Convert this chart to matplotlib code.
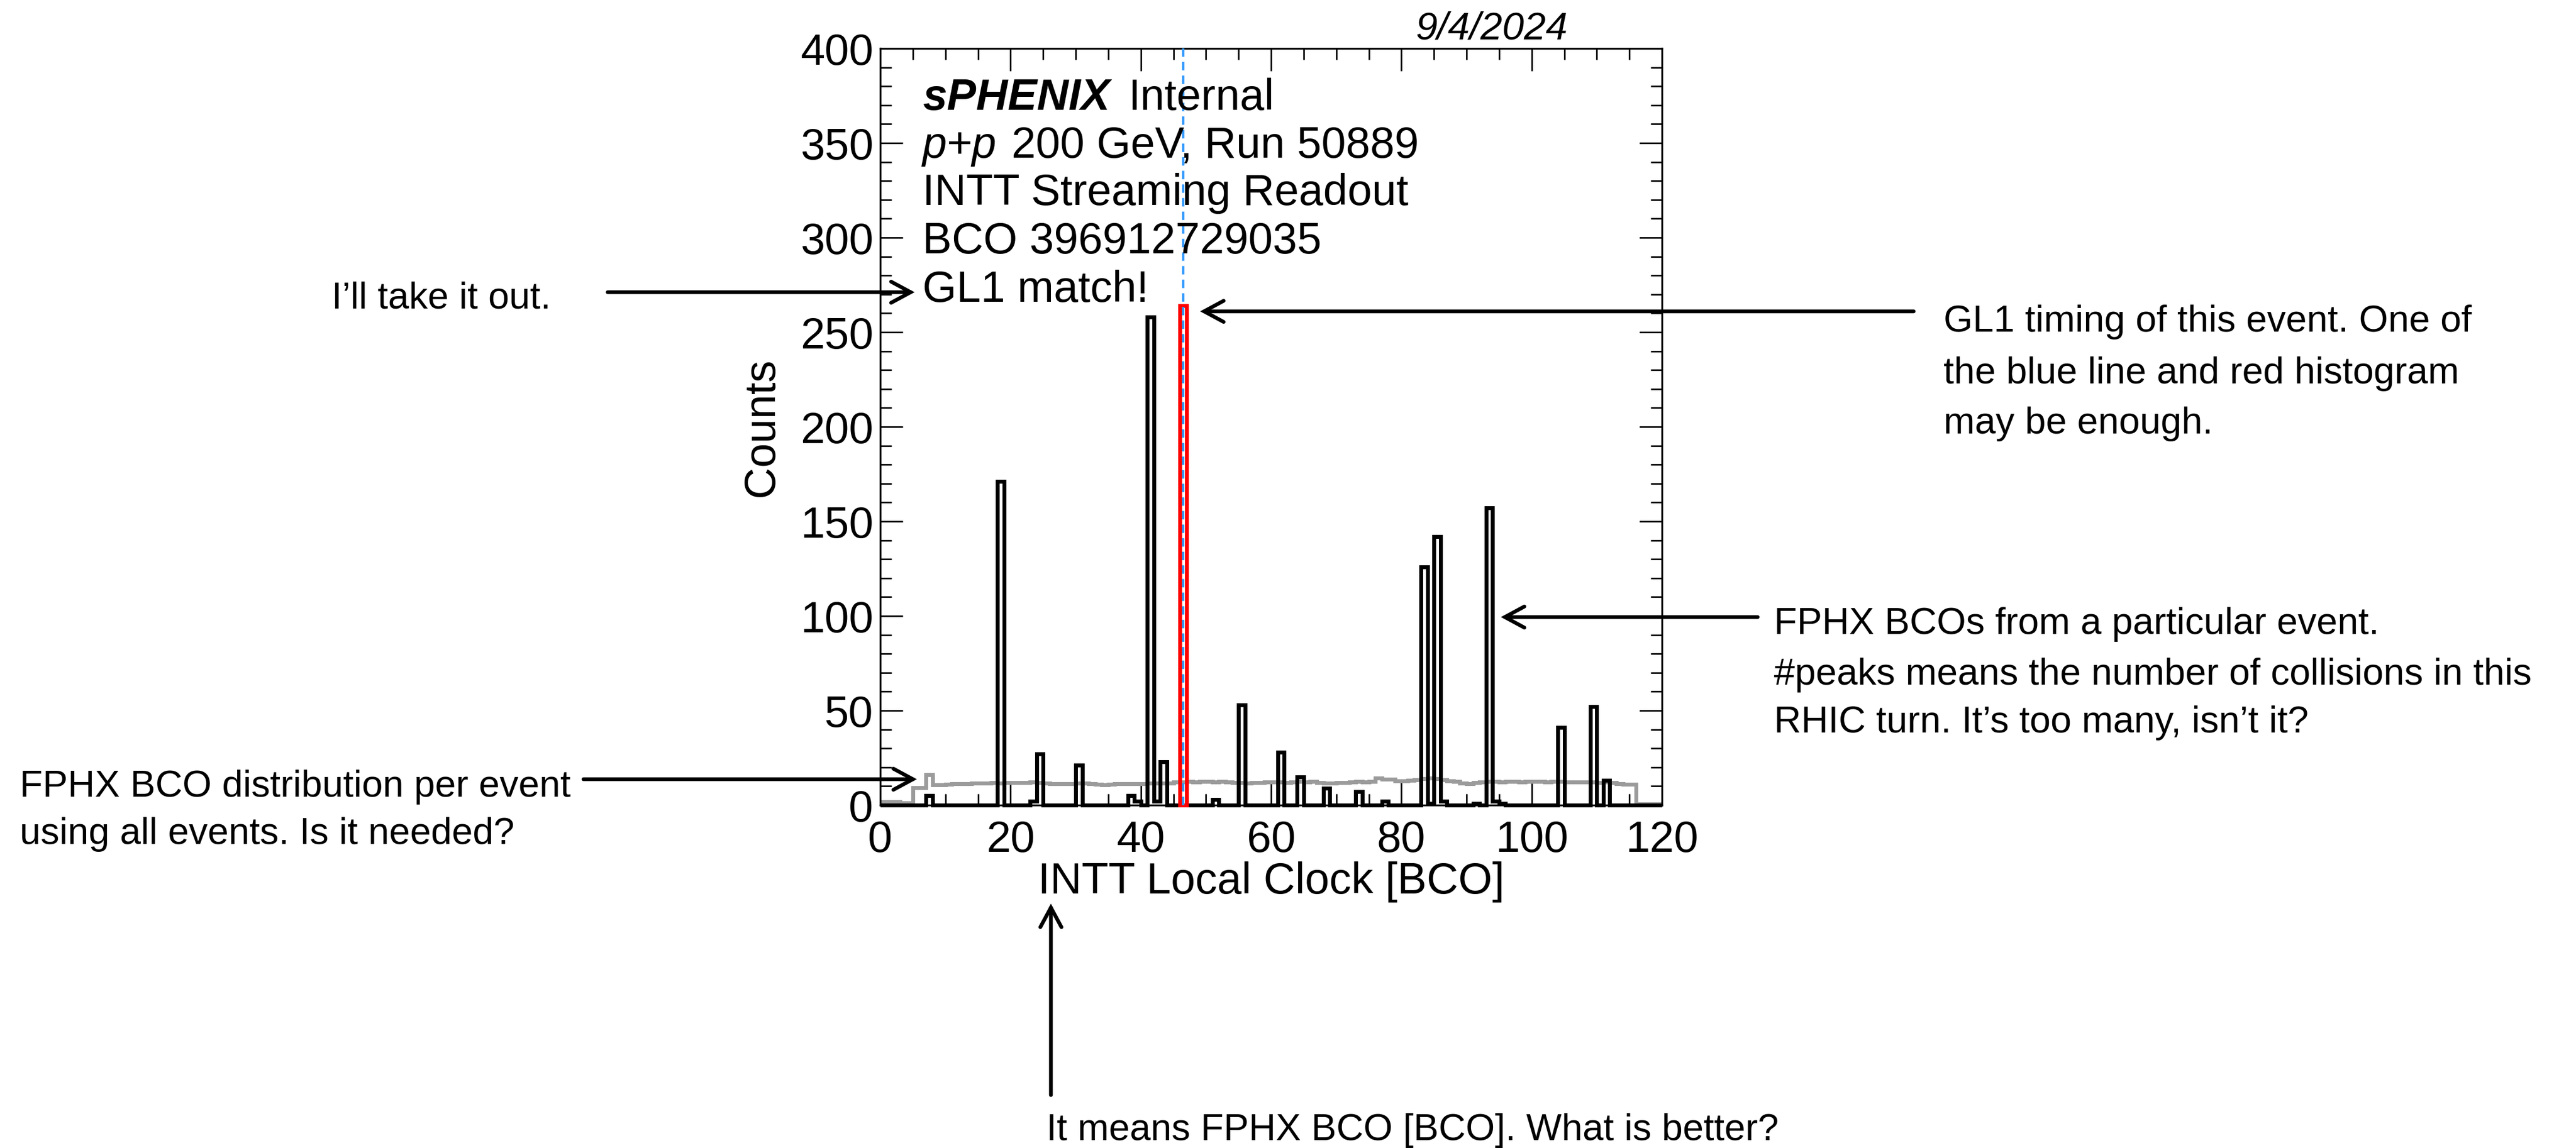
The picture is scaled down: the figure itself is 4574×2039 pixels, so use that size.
import numpy as np
import matplotlib
matplotlib.use('Agg')
import matplotlib.pyplot as plt
from matplotlib.patches import FancyArrowPatch
from matplotlib.ticker import MultipleLocator

plt.rcParams['font.family'] = ['Liberation Sans', 'DejaVu Sans']

# ---- data ----
bco_edges = np.arange(0, 121)

# FPHX BCO of this event (black histogram), non-empty bins only
peak_bins = [7, 18, 23, 24, 30, 38, 39, 41, 42, 43, 51, 55, 61, 64, 68, 73, 77,
             83, 84, 85, 86, 91, 93, 94, 95, 104, 109, 111]
peak_counts = [5, 171, 2, 27, 21, 5, 2, 258, 2, 23, 3, 53, 28, 15, 9, 7, 2,
               126, 1, 142, 2, 1, 157, 2, 1, 41, 52, 13]

# GL1-matched bin (red) and GL1 timing (blue dashed line)
gl1_bin = [46]
gl1_count = [264]
gl1_timing = 46.5

# FPHX BCO distribution per event using all events (grey)
allevt_counts = [
    1.8, 1.8, 1.8, 1.1, 1.1, 9.2, 9.2, 16.2, 10.7, 10.8,
    10.9, 11.2, 11.2, 11.4, 11.6, 11.7, 11.6, 11.8, 11.7, 11.8,
    12.0, 11.9, 12.0, 12.1, 11.9, 11.6, 11.3, 11.4, 11.2, 11.3,
    11.5, 11.6, 11.4, 10.9, 10.8, 11.0, 11.2, 11.3, 11.4, 11.3,
    11.2, 11.5, 11.6, 11.5, 11.7, 12.1, 12.2, 12.4, 12.3, 12.5,
    12.4, 12.3, 12.5, 12.2, 12.0, 11.9, 11.7, 11.8, 12.0, 12.2,
    12.3, 12.1, 12.0, 12.2, 12.5, 12.3, 12.4, 11.8, 11.7, 11.6,
    11.8, 12.0, 12.1, 12.4, 12.3, 12.5, 14.2, 13.8, 13.6, 12.8,
    12.9, 13.2, 13.4, 14.0, 14.2, 14.0, 13.3, 12.7, 12.5, 11.5,
    11.4, 12.0, 12.3, 12.6, 12.4, 12.2, 12.4, 12.5, 12.3, 12.4,
    12.6, 12.4, 12.3, 12.5, 12.4, 12.2, 12.1, 12.3, 12.2, 12.1,
    12.0, 12.1, 11.9, 11.3, 11.1, 10.9, 0.6, 0.6, 0.6, 0.6,
]

event_counts = np.zeros(len(bco_edges) - 1)
event_counts[peak_bins] = peak_counts

W, H = 4574, 2040


def fx(x):
    return x / W


def fy(y):
    return 1 - y / H


fig = plt.figure(figsize=(W / 100, H / 100), dpi=100)
ax = fig.add_axes([fx(1563), fy(1431), (2951 - 1563) / W, (1431 - 87) / H])

ax.stairs(allevt_counts, bco_edges, baseline=None, color='#9b9b9b', lw=5.0, zorder=2)
ax.stairs(event_counts, bco_edges, baseline=0, color='black', lw=5.0,
          joinstyle='miter', zorder=3, clip_on=False)
ax.bar(gl1_bin, gl1_count, width=1, align='edge', fill=False, edgecolor='#ff0000',
       lw=5.0, joinstyle='miter', zorder=4, clip_on=False)
ax.axvline(gl1_timing, color='#3399ff', lw=3.0, dashes=(3.6, 2.2), zorder=5)

ax.set_xlim(0, 120)
ax.set_ylim(0, 400)
ax.xaxis.set_major_locator(MultipleLocator(20))
ax.xaxis.set_minor_locator(MultipleLocator(5))
ax.yaxis.set_major_locator(MultipleLocator(50))
ax.yaxis.set_minor_locator(MultipleLocator(10))
ax.tick_params(which='both', direction='in', top=True, right=True, width=2.0,
               labelsize=56)
ax.tick_params(which='major', length=28.8)
ax.tick_params(which='minor', length=14.4)
ax.tick_params(axis='x', pad=18)
ax.tick_params(axis='y', pad=9)
for sp in ax.spines.values():
    sp.set_linewidth(2.4)

ax.set_xlabel('INTT Local Clock [BCO]', fontsize=56)
ax.xaxis.set_label_coords(0.5, -0.074)
ax.set_ylabel('Counts', fontsize=56)
ax.yaxis.set_label_coords(-0.1256, 0.5)

# ---- sPHENIX labels ----
fs = 56
fig.text(fx(1638), fy(195), 'sPHENIX', fontsize=fs, fontweight='bold',
         fontstyle='italic', va='baseline')
fig.text(fx(2004), fy(195), 'Internal', fontsize=fs, va='baseline')
fig.text(fx(1638), fy(280), 'p+p', fontsize=fs, fontstyle='italic', va='baseline')
fig.text(fx(1796), fy(280), '200 GeV, Run 50889', fontsize=fs, va='baseline')
fig.text(fx(1638), fy(364), 'INTT Streaming Readout', fontsize=fs, va='baseline')
fig.text(fx(1638), fy(450), 'BCO 396912729035', fontsize=fs, va='baseline')
fig.text(fx(1638), fy(536), 'GL1 match!', fontsize=fs, va='baseline')
fig.text(fx(2514), fy(70), '9/4/2024', fontsize=50, fontstyle='italic', va='baseline')

# ---- comments around the plot ----
cs = 48
notes = [
    (589, 548, "I\u2019ll take it out."),
    (3451, 589, 'GL1 timing of this event. One of'),
    (3451, 681, 'the blue line and red histogram'),
    (3451, 770, 'may be enough.'),
    (3150, 1126, 'FPHX BCOs from a particular event.'),
    (3150, 1216, '#peaks means the number of collisions in this'),
    (3150, 1301, 'RHIC turn. It\u2019s too many, isn\u2019t it?'),
    (35, 1415, 'FPHX BCO distribution per event'),
    (35, 1499, 'using all events. Is it needed?'),
    (1858, 2025, 'It means FPHX BCO [BCO]. What is better?'),
]
for x, y, s in notes:
    fig.text(fx(x), fy(y), s, fontsize=cs, va='baseline')

arrows = [
    ((1079, 520), (1624, 520)),
    ((3398, 554), (2131, 554)),
    ((3121, 1097), (2665, 1097)),
    ((1036, 1385), (1628, 1385)),
    ((1866, 1946), (1866, 1606)),
]
for (x0, y0), (x1, y1) in arrows:
    arr = FancyArrowPatch((fx(x0), fy(y0)), (fx(x1), fy(y1)),
                          transform=fig.transFigure,
                          arrowstyle='->,head_length=25,head_width=13.5',
                          mutation_scale=1, lw=4.8, color='black',
                          shrinkA=0, shrinkB=0, joinstyle='miter')
    fig.add_artist(arr)

fig.savefig('out.png', dpi=100, facecolor='white')
